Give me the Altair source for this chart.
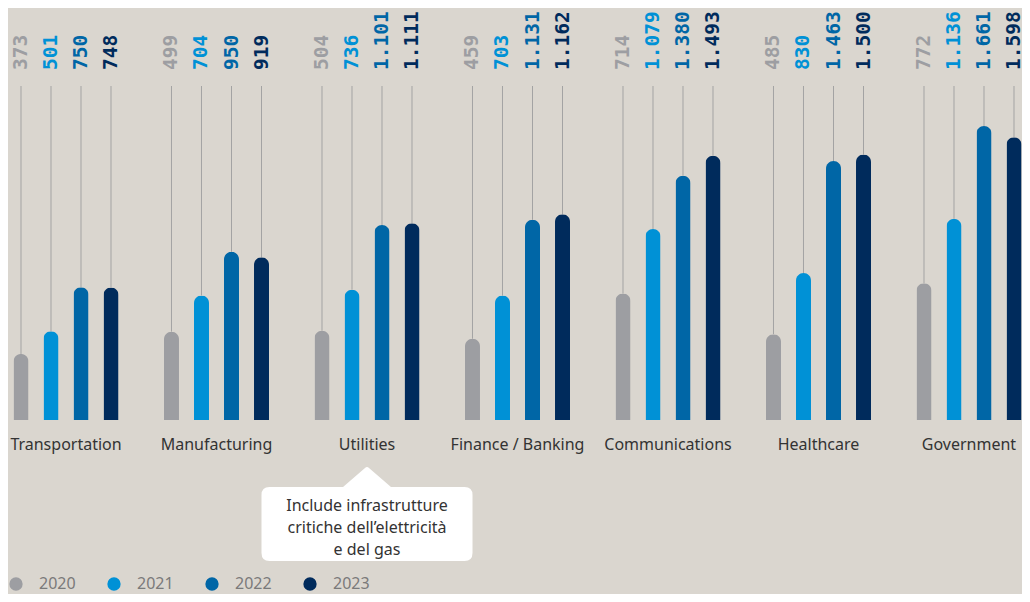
import altair as alt
import pandas as pd

categories = ["Transportation", "Manufacturing", "Utilities", "Finance / Banking",
              "Communications", "Healthcare", "Government"]
years = ["2020", "2021", "2022", "2023"]
v2020 = [373, 499, 504, 459, 714, 485, 772]
v2021 = [501, 704, 736, 703, 1079, 830, 1136]
v2022 = [750, 950, 1101, 1131, 1380, 1463, 1661]
v2023 = [748, 919, 1111, 1162, 1493, 1500, 1598]
colors = ["#9d9ea2", "#0091d6", "#0066a6", "#002b5c"]
note_category = "Utilities"
note_text = ["Include infrastrutture", "critiche dell\u2019elettricità", "e del gas"]

rows = []
for yr, vals in zip(years, [v2020, v2021, v2022, v2023]):
    for c, v in zip(categories, vals):
        rows.append({"category": c, "year": yr, "value": v,
                     "label": f"{v:,}".replace(",", ".")})
df = pd.DataFrame(rows)
note_df = pd.DataFrame([{"category": note_category, "text": note_text}])

FONT = "Noto Sans"
BG = "#dad6cf"

xscale = alt.Scale(domain=categories, range=[-17.25, 1036.25], paddingInner=0, paddingOuter=0,
                   round=False)
xaxis = alt.Axis(labelAngle=0, labelFontSize=16, labelFont=FONT, labelColor="#333333",
                 domain=False, ticks=False, grid=False, labelPadding=16, title=None)
xenc = alt.X("category:N", scale=xscale, axis=xaxis, title=None)
xoff = alt.XOffset("year:N", sort=years,
                   scale=alt.Scale(paddingInner=0.5, paddingOuter=0.758, round=False))
yscale = alt.Scale(domain=[0, 1887], nice=False, zero=True)
cscale = alt.Scale(domain=years, range=colors)

base = alt.Chart(df)

rules = base.mark_rule(color="#a3a3a3", strokeWidth=1).encode(
    x=xenc,
    xOffset=xoff,
    y=alt.Y("value:Q", scale=yscale, axis=None),
    y2=alt.value(0),
)

bars = base.mark_bar(cornerRadiusTopLeft=7.5, cornerRadiusTopRight=7.5).encode(
    x=xenc,
    xOffset=xoff,
    y=alt.Y("value:Q", scale=yscale, axis=None),
    color=alt.Color("year:N", scale=cscale, title=None,
                    legend=alt.Legend(orient="none", legendX=0, legendY=490, direction="horizontal",
                                      symbolType="circle", symbolSize=177, symbolStrokeWidth=0,
                                      labelFontSize=16, labelFont=FONT, labelColor="#7a7a7a",
                                      labelOffset=15, columnPadding=30, padding=0)),
)

labels = base.mark_text(angle=270, align="left", baseline="middle", font="DejaVu Sans Mono",
                        fontWeight="bold", fontSize=19.5).encode(
    x=xenc,
    xOffset=xoff,
    y=alt.value(-16),
    text="label:N",
    color=alt.Color("year:N", scale=cscale, legend=None),
)

box_path = ("M -97.5 -37 L -24 -37 L -2 -56 Q 0 -58 2 -56 L 24 -37 L 97.5 -37 "
            "Q 105.5 -37 105.5 -29 L 105.5 29 Q 105.5 37 97.5 37 L -97.5 37 "
            "Q -105.5 37 -105.5 29 L -105.5 -29 Q -105.5 -37 -97.5 -37 Z")

note_box = alt.Chart(note_df).mark_point(shape=box_path, size=4, filled=True, fill="white",
                                         opacity=1, strokeWidth=0).encode(
    x=xenc,
    y=alt.value(438),
)

note_txt = alt.Chart(note_df).mark_text(align="center", baseline="top", font=FONT, fontSize=16,
                                        color="#333333", lineHeight=22).encode(
    x=xenc,
    y=alt.value(412),
    text="text",
)

chart = alt.layer(rules, bars, labels, note_box, note_txt).properties(
    width=1014, height=334,
    background=BG,
    autosize=alt.AutoSizeParams(type="none"),
    padding={"left": 0, "top": 78, "right": 0, "bottom": 174},
).configure_view(stroke=None)

chart.save("out.html", embed_options={"renderer": "svg", "actions": False})
